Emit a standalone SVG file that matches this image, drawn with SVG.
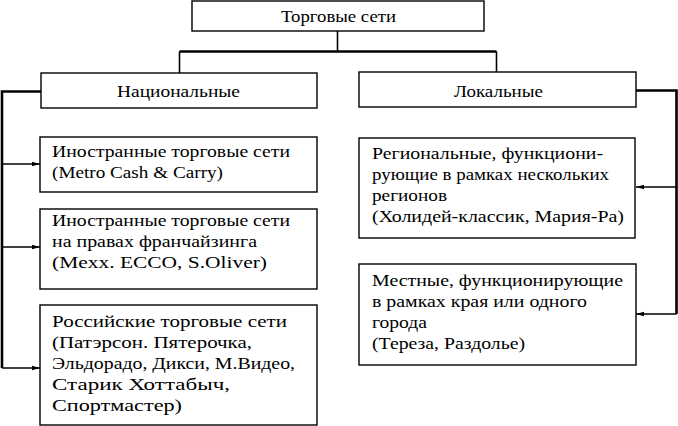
<svg xmlns="http://www.w3.org/2000/svg" width="678" height="426" viewBox="0 0 678 426">
<defs>
<marker id="ah" markerWidth="8" markerHeight="6" refX="8" refY="3" orient="auto" markerUnits="userSpaceOnUse">
<path d="M0,0.8 L8,3 L0,5.2 Z" fill="#000"/>
</marker>
<style>
.box{fill:#fff;stroke:#000;stroke-width:1.4}
text{font-family:'Liberation Serif','Times New Roman',Tinos,'Noto Serif',FreeSerif,'Nimbus Roman',serif;font-size:16.5px;fill:#000}
.c{text-anchor:middle}
.thick{fill:none;stroke:#000;stroke-width:2.6}
.thin{fill:none;stroke:#000;stroke-width:1.6}
</style>
</defs>
<rect width="678" height="426" fill="#fff"/>
<g id="connectors">
<path class="thin" d="M337.5,31 V51"/>
<path class="thick" d="M179.5,51.5 H496.5"/>
<path class="thin" d="M179.5,51.5 V73"/>
<path class="thin" d="M496.5,51.5 V72"/>
<path class="thick" d="M41,91.5 H2 V368"/>
<path class="thin" d="M2,164 H40" marker-end="url(#ah)"/>
<path class="thin" d="M2,247 H40" marker-end="url(#ah)"/>
<path class="thin" d="M2,368 H40" marker-end="url(#ah)"/>
<path class="thick" d="M636,90.5 H676.5 V314"/>
<path class="thin" d="M676.5,187 H636" marker-end="url(#ah)"/>
<path class="thin" d="M676.5,314 H636" marker-end="url(#ah)"/>
</g>
<g id="root">
<rect class="box" x="192" y="1" width="292" height="30"/>
<text class="c" x="338.5" y="22" textLength="115" lengthAdjust="spacingAndGlyphs">Торговые сети</text>
</g>
<g id="national">
<rect class="box" x="41" y="73" width="276" height="35"/>
<text class="c" x="178.5" y="97" textLength="123" lengthAdjust="spacingAndGlyphs">Национальные</text>
</g>
<g id="local">
<rect class="box" x="359" y="72" width="277" height="35"/>
<text class="c" x="498.5" y="97" textLength="89" lengthAdjust="spacingAndGlyphs">Локальные</text>
</g>
<g id="foreign">
<rect class="box" x="40" y="137" width="277" height="55"/>
<text x="52" y="157" textLength="238" lengthAdjust="spacingAndGlyphs">Иностранные торговые сети</text>
<text x="52" y="178" textLength="171" lengthAdjust="spacingAndGlyphs">(Metro Cash &amp; Carry)</text>
</g>
<g id="franchise">
<rect class="box" x="40" y="209" width="277" height="80"/>
<text x="52" y="226" textLength="238" lengthAdjust="spacingAndGlyphs">Иностранные торговые сети</text>
<text x="52" y="247" textLength="205" lengthAdjust="spacingAndGlyphs">на правах франчайзинга</text>
<text x="52" y="268" textLength="215" lengthAdjust="spacingAndGlyphs">(Mexx. ECCO, S.Oliver)</text>
</g>
<g id="russian">
<rect class="box" x="40" y="305" width="277" height="120"/>
<text x="52" y="327" textLength="235" lengthAdjust="spacingAndGlyphs">Российские торговые сети</text>
<text x="52" y="348" textLength="200" lengthAdjust="spacingAndGlyphs">(Патэрсон. Пятерочка,</text>
<text x="52" y="369" textLength="243" lengthAdjust="spacingAndGlyphs">Эльдорадо, Дикси, М.Видео,</text>
<text x="52" y="390" textLength="178" lengthAdjust="spacingAndGlyphs">Старик Хоттабыч,</text>
<text x="52" y="411" textLength="130" lengthAdjust="spacingAndGlyphs">Спортмастер)</text>
</g>
<g id="regional">
<rect class="box" x="359" y="138" width="276" height="100"/>
<text x="372" y="159" textLength="231" lengthAdjust="spacingAndGlyphs">Региональные, функциони-</text>
<text x="372" y="180" textLength="237" lengthAdjust="spacingAndGlyphs">рующие в рамках нескольких</text>
<text x="372" y="201" textLength="75" lengthAdjust="spacingAndGlyphs">регионов</text>
<text x="372" y="222" textLength="252" lengthAdjust="spacingAndGlyphs">(Холидей-классик, Мария-Ра)</text>
</g>
<g id="localnets">
<rect class="box" x="359" y="264" width="277" height="101"/>
<text x="372" y="286" textLength="251" lengthAdjust="spacingAndGlyphs">Местные, функционирующие</text>
<text x="372" y="307" textLength="215" lengthAdjust="spacingAndGlyphs">в рамках края или одного</text>
<text x="372" y="328" textLength="55" lengthAdjust="spacingAndGlyphs">города</text>
<text x="372" y="349" textLength="153" lengthAdjust="spacingAndGlyphs">(Тереза, Раздолье)</text>
</g>
</svg>
